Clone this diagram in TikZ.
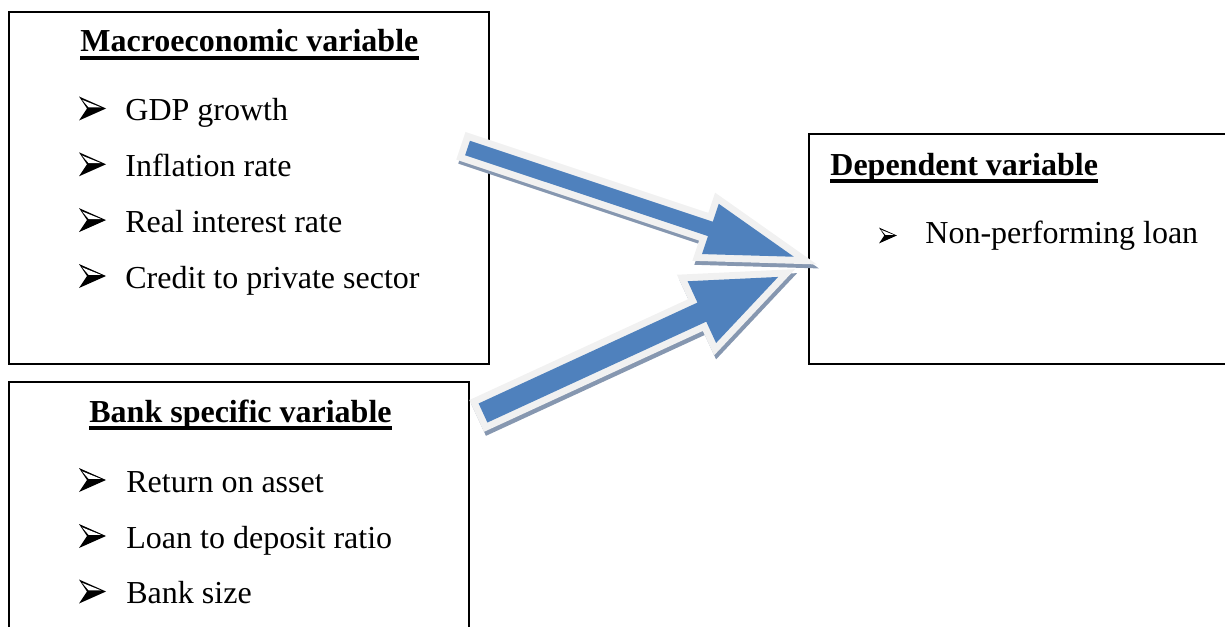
\documentclass[tikz,border=0pt]{standalone}
\usepackage{fontspec}
\setmainfont{Liberation Serif}

\definecolor{arrowblue}{RGB}{79,129,189}
\definecolor{arrowrim}{RGB}{241,241,241}
\definecolor{arrowshade}{RGB}{134,151,176}

% Block arrow: tail centre (#1,#2), angle #3, length #4, head length #5,
% shaft half width #6, head half width #7
\newcommand\blockarrow[7]{%
  \begin{scope}[shift={(#1+2,#2+4)}, rotate=#3]
    \filldraw[arrowshade, line width=7pt]
      (0,-#6) -- (#4-#5,-#6) -- (#4-#5,-#7) -- (#4,0) -- (#4-#5,#7) -- (#4-#5,#6) -- (0,#6) -- cycle;
  \end{scope}
  \begin{scope}[shift={(#1,#2)}, rotate=#3]
    \filldraw[arrowrim, line width=7pt]
      (0,-#6) -- (#4-#5,-#6) -- (#4-#5,-#7) -- (#4,0) -- (#4-#5,#7) -- (#4-#5,#6) -- (0,#6) -- cycle;
    \fill[arrowblue]
      (0,-#6) -- (#4-#5,-#6) -- (#4-#5,-#7) -- (#4,0) -- (#4-#5,#7) -- (#4-#5,#6) -- (0,#6) -- cycle;
  \end{scope}}

\tikzset{
  boxline/.style={draw=black, line width=1pt},
  itemtext/.style={inner sep=0pt, anchor=base west, font=\fontsize{16}{19}\selectfont},
  headtext/.style={inner sep=0pt, anchor=base west, font=\fontsize{16}{19}\selectfont\bfseries},
  underline/.style={line width=1.6pt},
  bulletarrow/.pic={
    \fill[black] (0,-12) -- (27,0) -- (0,12) -- (8,0) -- cycle;
    \fill[white] (3.2,-8.6) -- (22,-1.1) -- (9.6,-1.1) -- cycle;
  }
}

\begin{document}
\begin{tikzpicture}[x=0.5pt, y=-0.5pt, line join=miter]
  \useasboundingbox (0,0) rectangle (1225,626);
  \clip (0,0) rectangle (1225,626);

  % frames
  \draw[boxline] (9,12) rectangle (489,364);
  \draw[boxline] (9,382) rectangle (469,660);
  \draw[boxline] (809,134) rectangle (1260,364);

  % macroeconomic variables
  \node[headtext] (mh) at (80,52) {Macroeconomic variable};
  \draw[underline] ([yshift=-3pt]mh.base west) -- ([yshift=-3pt]mh.base east);
  \pic at (79,108.5) {bulletarrow};
  \node[itemtext] (m1) at (125,120.5) {GDP growth};
  \pic at (79,164.3) {bulletarrow};
  \node[itemtext] (m2) at (125,176.3) {Inflation rate};
  \pic at (79,220.1) {bulletarrow};
  \node[itemtext] (m3) at (125,232.1) {Real interest rate};
  \pic at (79,276) {bulletarrow};
  \node[itemtext] (m4) at (125,288) {Credit to private sector};

  % bank specific variables
  \node[headtext] (bh) at (89,422) {Bank specific variable};
  \draw[underline] ([yshift=-3pt]bh.base west) -- ([yshift=-3pt]bh.base east);
  \pic at (79,480) {bulletarrow};
  \node[itemtext] (b1) at (126,492) {Return on asset};
  \pic at (79,536) {bulletarrow};
  \node[itemtext] (b2) at (126,548) {Loan to deposit ratio};
  \pic at (79,591.5) {bulletarrow};
  \node[itemtext] (b3) at (126,603.5) {Bank size};

  % dependent variable
  \node[headtext] (dh) at (830,175) {Dependent variable};
  \draw[underline] ([yshift=-3pt]dh.base west) -- ([yshift=-3pt]dh.base east);
  \pic[scale=0.66] at (879,235.5) {bulletarrow};
  \node[itemtext] (d1) at (925,243) {Non-performing loan};

  % block arrows into the dependent variable
  \blockarrow{467.5}{148}{-18.43}{344}{88}{7.6}{26.5}
  \blockarrow{483}{413}{24.75}{325}{84}{10.5}{34}
\end{tikzpicture}
\end{document}
